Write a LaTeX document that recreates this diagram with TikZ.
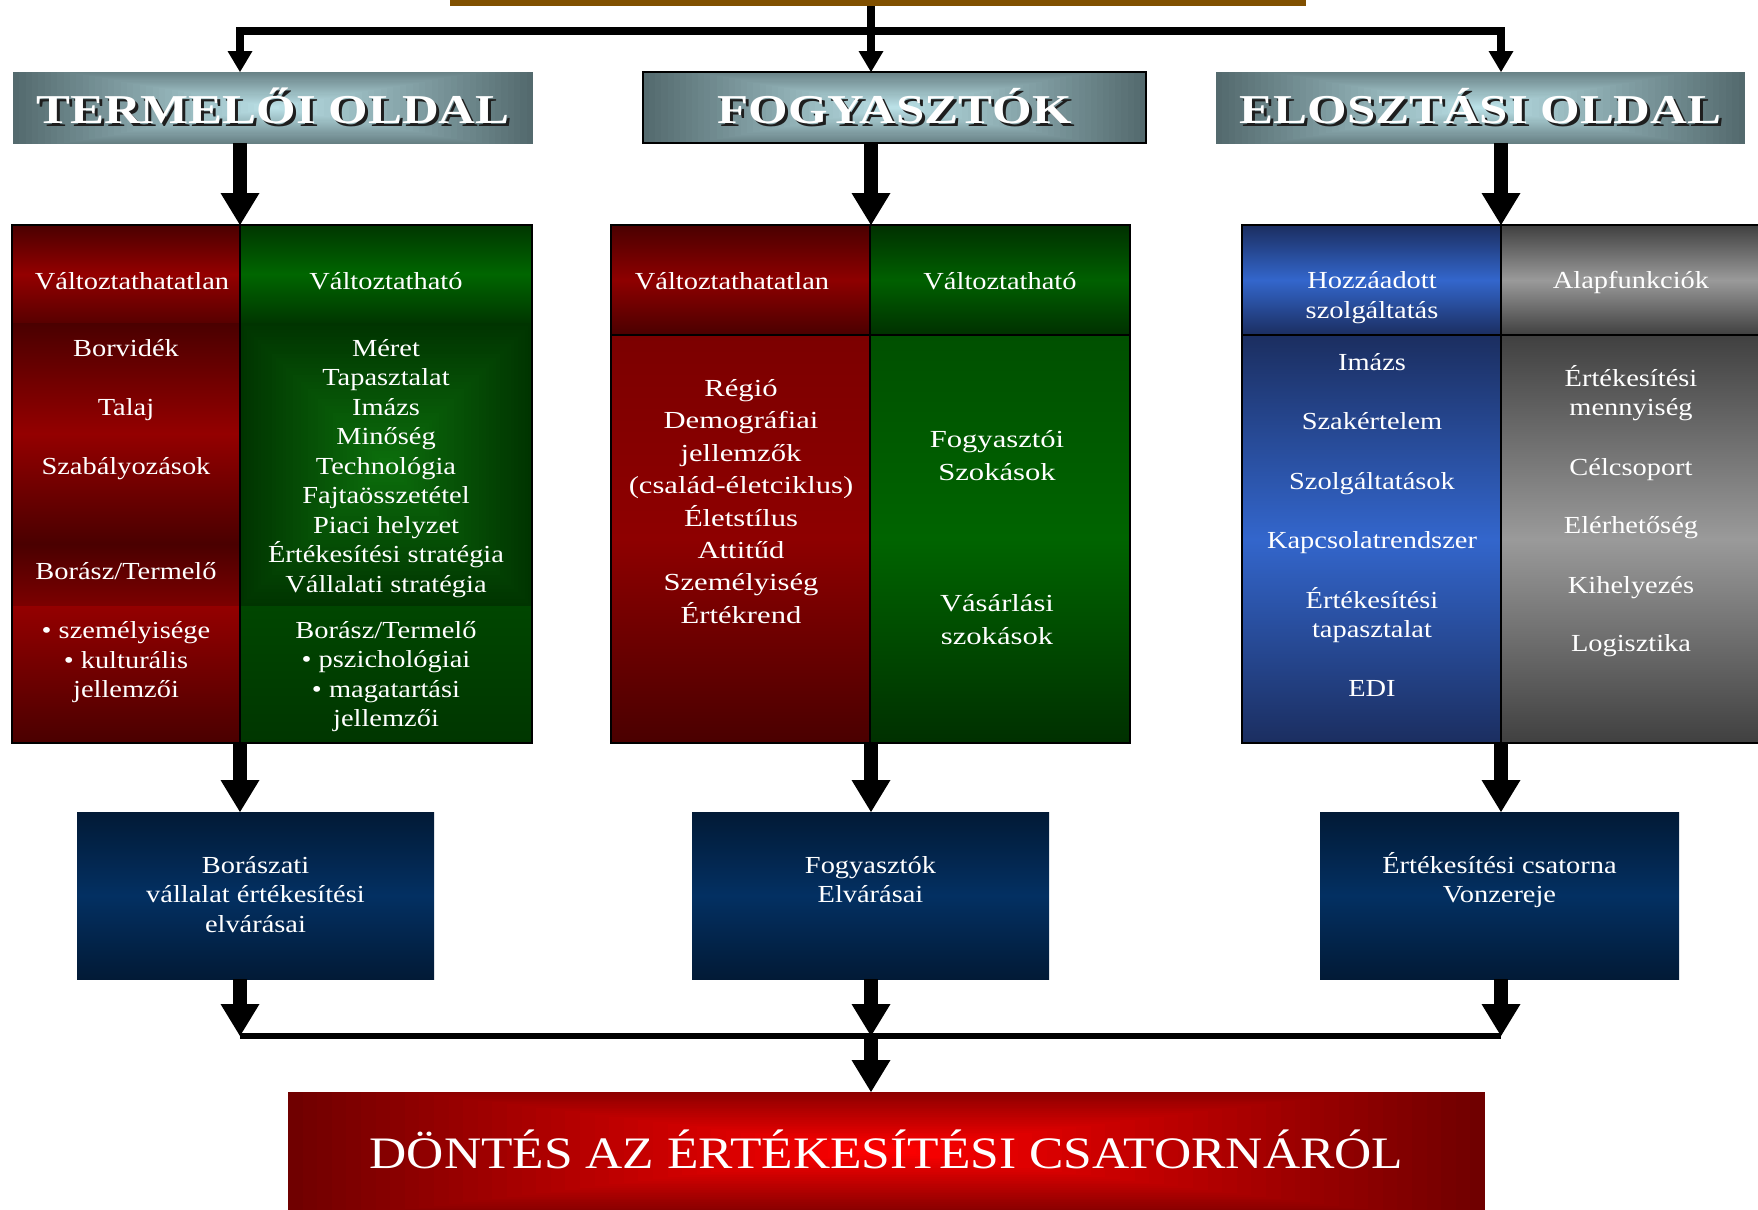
\documentclass[tikz,border=0pt]{standalone}
\usepackage{fontspec}
\setmainfont{Liberation Serif}
\newfontfamily\tabfam[FakeStretch=1.16]{Liberation Serif}
\newfontfamily\midfam[FakeStretch=1.25]{Liberation Serif}
\newfontfamily\hdrfam[FakeStretch=1.24]{Liberation Serif}
\newfontfamily\titfam[FakeStretch=1.145]{Liberation Serif}
\usetikzlibrary{arrows.meta}

\definecolor{brownbar}{RGB}{128,80,0}
\definecolor{hdrin}{RGB}{186,224,230}
\definecolor{hdrout}{RGB}{84,106,110}
\definecolor{hdrshadow}{RGB}{30,30,30}
\definecolor{titin}{RGB}{255,0,0}
\definecolor{titout}{RGB}{112,0,0}
\definecolor{navyd}{RGB}{2,26,54}
\definecolor{navyb}{RGB}{3,48,98}
\definecolor{rd}{RGB}{74,0,0}
\definecolor{rb}{RGB}{148,0,0}
\definecolor{rb2}{RGB}{142,0,0}
\definecolor{rm}{RGB}{124,0,0}
\definecolor{rh}{RGB}{88,0,0}
\definecolor{gd}{RGB}{0,54,0}
\definecolor{gb}{RGB}{0,102,0}
\definecolor{gin}{RGB}{12,110,12}
\definecolor{gout}{RGB}{0,52,0}
\definecolor{gm}{RGB}{0,70,0}
\definecolor{gd2}{RGB}{0,48,0}
\definecolor{gb2}{RGB}{0,96,0}
\definecolor{gt2}{RGB}{0,80,0}
\definecolor{gb3}{RGB}{0,100,0}
\definecolor{bd}{RGB}{27,46,96}
\definecolor{bb}{RGB}{51,102,204}
\definecolor{yd}{RGB}{64,64,64}
\definecolor{yb}{RGB}{154,154,154}

\newcommand\tabf{\tabfam\fontsize{12.25pt}{14.75pt}\selectfont\lineskiplimit=-100pt\relax}
\newcommand\midf{\midfam\fontsize{12.25pt}{16.2pt}\selectfont\lineskiplimit=-100pt\relax}
\newcommand\hdrf{\hdrfam\bfseries\fontsize{20.5pt}{24pt}\selectfont}
\newcommand\titf{\titfam\fontsize{22.5pt}{27pt}\selectfont}
\newcommand\topS{\rule{0pt}{0.9em}}
\newcommand\botS{\rule[-0.3em]{0pt}{0pt}}
\newcommand\embo[1]{\rlap{\kern1.5pt\raisebox{-1.5pt}{\textcolor{hdrshadow}{#1}}}#1}
% rectangular "from centre" gradient: cx cy w h inner outer steps vfactor
\newcommand\rgrad[8]{%
  \begin{scope}
  \clip ({#1-#3/2},{#2-#4/2}) rectangle ({#1+#3/2},{#2+#4/2});
  \foreach \i in {0,...,#7}{%
    \pgfmathsetmacro\rgT{1-\i/(#7+1)}%
    \pgfmathsetmacro\rgP{100*\i/#7}%
    \fill[#5!\rgP!#6] ({#1-\rgT*#3/2},{#2-\rgT*#4*#8/2}) rectangle ({#1+\rgT*#3/2},{#2+\rgT*#4*#8/2});
  }
  \end{scope}}

\begin{document}
\begin{tikzpicture}[x=0.5pt,y=-0.5pt,
  cell/.style={rectangle, inner sep=0pt, outer sep=0pt, draw=none},
  frame/.style={rectangle, inner sep=0pt, outer sep=0pt, draw=black, line width=1pt, fill=none},
  txt/.style={text=white, inner sep=0pt, outer sep=0pt, align=center, font=\tabf},
  midtxt/.style={txt, font=\midf},
  hdr/.style={rectangle, inner sep=0pt, outer sep=0pt, text=white, font=\hdrf, minimum height=35.5pt},
  bluebox/.style={rectangle, inner sep=0pt, outer sep=0pt, top color=navyd, bottom color=navyd, middle color=navyb, text=white, align=center, font=\tabf, minimum height=83.5pt},
  tarrow/.style={line width=4pt, -{Triangle[width=12.5pt,length=10.5pt,line width=0pt]}},
  barrow/.style={line width=7pt, -{Triangle[width=19.5pt,length=16pt,line width=0pt]}},
  hbar/.style={line width=3.3pt}
]
\useasboundingbox (0,0) rectangle (1758,1210);
\fill[white] (0,0) rectangle (1758,1210);
\clip (0,0) rectangle (1758,1210);

% source bar (cut at top)
\node[rectangle, fill=brownbar, inner sep=0pt, outer sep=0pt, minimum width=428pt, minimum height=5pt] (src) at (878,1) {};

% header gradients
\rgrad{273}{107.5}{520}{71}{hdrin}{hdrout}{40}{1.25}
\rgrad{894.5}{107.5}{503}{71}{hdrin}{hdrout}{40}{1.25}
\rgrad{1480.5}{107.5}{529}{71}{hdrin}{hdrout}{40}{1.25}
% headers
\node[hdr, minimum width=260pt] (h1) at (273,107.5) {\topS\raisebox{-1.6pt}{\embo{TERMELŐI OLDAL}}\botS};
\node[hdr, minimum width=251.5pt, draw=black, line width=1pt] (h2) at (894.5,107.5) {\topS\raisebox{-1.6pt}{\embo{FOGYASZTÓK}}\botS};
\node[hdr, minimum width=264.5pt] (h3) at (1480.5,107.5) {\topS\raisebox{-1.6pt}{\embo{ELOSZTÁSI OLDAL}}\botS};

% left table
\node[cell, minimum width=114pt, minimum height=49pt, top color=rd, bottom color=rh, middle color=rb] (Lrh) at (126,274) {};
\node[cell, minimum width=114pt, minimum height=110.5pt, top color=rd, bottom color=rd, middle color=rb] (Lrb1) at (126,433.5) {};
\node[cell, minimum width=114pt, minimum height=31pt, top color=rd, bottom color=rm] (Lrb2) at (126,575) {};
\node[cell, minimum width=114pt, minimum height=68.5pt, top color=rb, bottom color=rd] (Lrb3) at (126,674.5) {};
\node[cell, minimum width=146pt, minimum height=49pt, top color=gd, bottom color=gd, middle color=gb] (Lgh) at (386,274) {};
\rgrad{386}{464.5}{292}{283}{gin}{gout}{40}{1.0}
\node[cell, minimum width=146pt, minimum height=141.5pt] (Lgb1) at (386,464.5) {};
\node[cell, minimum width=146pt, minimum height=68.5pt, top color=gm, bottom color=gd] (Lgb2) at (386,674.5) {};
\node[frame, minimum width=260pt, minimum height=259pt] (tL) at (272,484) {};
\draw[line width=0.6pt] (Lrh.north east) -- (Lrb3.south east);

% middle table
\node[cell, minimum width=129.5pt, minimum height=55pt, top color=rd, bottom color=rd, middle color=rb2] (Mrh) at (740.5,280) {};
\node[cell, minimum width=129.5pt, minimum height=204pt, top color=rm, bottom color=rd, middle color=rb2] (Mrb) at (740.5,539) {};
\node[cell, minimum width=130pt, minimum height=55pt, top color=gd2, bottom color=gd2, middle color=gb2] (Mgh) at (1000,280) {};
\node[cell, minimum width=130pt, minimum height=204pt, top color=gt2, bottom color=gd2, middle color=gb3] (Mgb) at (1000,539) {};
\node[frame, minimum width=259.5pt, minimum height=259pt] (tM) at (870.5,484) {};
\draw[line width=1pt] (Mrh.south west) -- (Mgh.south east);
\draw[line width=1pt] (Mrh.north east) -- (Mrb.south east);

% right table
\node[cell, minimum width=129.5pt, minimum height=55pt, top color=bd, bottom color=bd, middle color=bb] (Rbh) at (1371.5,280) {};
\node[cell, minimum width=129.5pt, minimum height=204pt, top color=bd, bottom color=bd, middle color=bb] (Rbb) at (1371.5,539) {};
\node[cell, minimum width=134.5pt, minimum height=55pt, top color=yd, bottom color=yd, middle color=yb] (Rgh) at (1635.5,280) {};
\node[cell, minimum width=134.5pt, minimum height=204pt, top color=yd, bottom color=yd, middle color=yb] (Rgb) at (1635.5,539) {};
\node[frame, minimum width=264pt, minimum height=259pt] (tR) at (1506,484) {};
\draw[line width=1pt] (Rbh.south west) -- (Rgh.south east);
\draw[line width=1pt] (Rbh.north east) -- (Rbb.south east);

% left table texts
\node[txt] (l1) at (132,282) {\topS Változtathatatlan\botS};
\node[txt] (l2) at (126,349) {\topS Borvidék\botS};
\node[txt] (l3) at (126,408) {\topS Talaj\botS};
\node[txt] (l4) at (126,467) {\topS Szabályozások\botS};
\node[txt] (l5) at (126,572) {\topS Borász/Termelő\botS};
\node[txt] (l6) at (126,661) {\topS • személyisége\\• kulturális\\jellemzői\botS};
\node[txt] (l7) at (386,282) {\topS Változtatható\botS};
\node[txt] (l8) at (386,467) {\topS Méret\\Tapasztalat\\Imázs\\Minőség\\Technológia\\Fajtaösszetétel\\Piaci helyzet\\Értékesítési stratégia\\Vállalati stratégia\botS};
\node[txt] (l9) at (386,675) {\topS Borász/Termelő\\• pszichológiai\\• magatartási\\jellemzői\botS};

% middle table texts
\node[txt] (m1) at (732,282) {\topS Változtathatatlan\botS};
\node[txt] (m2) at (1000,282) {\topS Változtatható\botS};
\node[midtxt] (m3) at (741,502.5) {\topS Régió\\Demográfiai\\jellemzők\\(család-életciklus)\\Életstílus\\Attitűd\\Személyiség\\Értékrend\botS};
\node[midtxt] (m4) at (997,456.5) {\topS Fogyasztói\\Szokások\botS};
\node[midtxt] (m5) at (997,620.5) {\topS Vásárlási\\szokások\botS};

% right table texts
\node[txt] (r1) at (1372,296) {\topS Hozzáadott\\szolgáltatás\botS};
\node[txt] (r2) at (1372,363) {\topS Imázs\botS};
\node[txt] (r3) at (1372,422.5) {\topS Szakértelem\botS};
\node[txt] (r4) at (1372,482) {\topS Szolgáltatások\botS};
\node[txt] (r5) at (1372,541.5) {\topS Kapcsolatrendszer\botS};
\node[txt] (r6) at (1372,615.5) {\topS Értékesítési\\tapasztalat\botS};
\node[txt] (r7) at (1372,689) {\topS EDI\botS};
\node[txt] (r8) at (1631,281) {\topS Alapfunkciók\botS};
\node[txt] (r9) at (1631,393.5) {\topS Értékesítési\\mennyiség\botS};
\node[txt] (r10) at (1631,468) {\topS Célcsoport\botS};
\node[txt] (r11) at (1631,526.5) {\topS Elérhetőség\botS};
\node[txt] (r12) at (1631,586) {\topS Kihelyezés\botS};
\node[txt] (r13) at (1631,644) {\topS Logisztika\botS};

% blue boxes
\node[bluebox, minimum width=178.5pt] (b1) at (255.5,895.5) {\topS Borászati\\vállalat értékesítési\\elvárásai\botS};
\node[bluebox, minimum width=178.5pt] (b2) at (870.5,895.5) {\topS Fogyasztók\\Elvárásai\\\mbox{}\botS};
\node[bluebox, minimum width=179.5pt] (b3) at (1499.5,895.5) {\topS Értékesítési csatorna\\Vonzereje\\\mbox{}\botS};

% bottom decision box
\rgrad{886.5}{1150.5}{1197}{117}{titin}{titout}{40}{1.25}
\node[rectangle, inner sep=0pt, outer sep=0pt, minimum width=598.5pt, minimum height=58.5pt, text=white, font=\titf] (bot) at (886.5,1150.5) {\topS\raisebox{-2pt}{DÖNTÉS AZ ÉRTÉKESÍTÉSI CSATORNÁRÓL}\botS};

% connector coordinates
\coordinate (xL) at (240,0);
\coordinate (xM) at (871,0);
\coordinate (xR) at (1501,0);
\coordinate (jc) at (871,31);
\coordinate (bl) at (240,1036);
\coordinate (bm) at (871,1036);
\coordinate (br) at (1501,1036);

% top connectors
\draw[tarrow] (src.south -| xM) -- (h2.north -| xM);
\draw[tarrow] (jc) -| (h1.north -| xL);
\draw[tarrow] (jc) -| (h3.north -| xR);

% header to table
\draw[barrow] (h1.south -| xL) -- (tL.north -| xL);
\draw[barrow] (h2.south -| xM) -- (tM.north -| xM);
\draw[barrow] (h3.south -| xR) -- (tR.north -| xR);

% table to box
\draw[barrow] (tL.south -| xL) -- (b1.north -| xL);
\draw[barrow] (tM.south -| xM) -- (b2.north -| xM);
\draw[barrow] (tR.south -| xR) -- (b3.north -| xR);

% box to bar
\draw[barrow] (b1.south -| xL) -- (bl);
\draw[barrow] (b2.south -| xM) -- (bm);
\draw[barrow] (b3.south -| xR) -- (br);
\draw[hbar] (bl) -- (br);
\draw[barrow] (bm) -- (bot.north -| xM);
\end{tikzpicture}
\end{document}
